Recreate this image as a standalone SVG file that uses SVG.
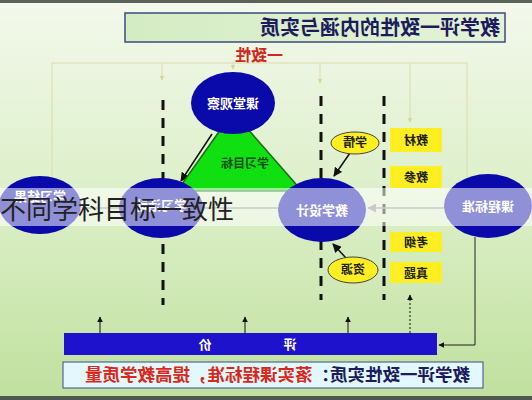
<svg xmlns="http://www.w3.org/2000/svg" width="532" height="400" viewBox="0 0 532 400">
<defs>
<linearGradient id="bg" x1="0" y1="0" x2="0" y2="1">
<stop offset="0" stop-color="#f3f8ec"/>
<stop offset="0.5" stop-color="#dcefc8"/>
<stop offset="1" stop-color="#c0e09e"/>
</linearGradient>
<linearGradient id="tb" x1="0" y1="0" x2="1" y2="0">
<stop offset="0" stop-color="#d4ecc4"/>
<stop offset="1" stop-color="#e4f2d6"/>
</linearGradient>
<marker id="ab" viewBox="0 0 10 10" refX="9" refY="5" markerWidth="6" markerHeight="6" orient="auto">
<path d="M0,0 L10,5 L0,10 z" fill="#111"/>
</marker>
<marker id="ag" viewBox="0 0 10 10" refX="9" refY="5" markerWidth="6" markerHeight="6" orient="auto">
<path d="M0,0 L10,5 L0,10 z" fill="#8a8a8a"/>
</marker>
<marker id="ay" viewBox="0 0 10 10" refX="9" refY="5" markerWidth="5" markerHeight="5" orient="auto">
<path d="M0,0 L10,5 L0,10 z" fill="#d4d890"/>
</marker>
</defs>
<style>
text{font-family:"Noto Sans CJK SC","Noto Sans",sans-serif;font-weight:bold}
.m{text-anchor:middle}
.wt{fill:#ffffff;font-size:13px}
.blue{fill:#0a0aaa}
.yel{fill:#ffee22}
.yt{fill:#222;font-size:12px}
.dash{stroke:#111;stroke-width:3;stroke-dasharray:10 8;fill:none}
.faint{stroke:#dcdca8;stroke-width:1;fill:none}
</style>
<rect x="0" y="0" width="532" height="400" fill="url(#bg)"/>
<rect x="0" y="0" width="532" height="3" fill="#5a625a"/>
<rect x="0" y="396" width="532" height="4" fill="#4e564e"/>

<g id="title">
<rect x="125" y="13" width="380" height="29" fill="url(#tb)" stroke="#3e4a7e" stroke-width="1.5"/>
<text transform="scale(-1,1)" x="-500" y="35" font-size="20" fill="#1c1c5c">教学评一致性的内涵与实质</text>
</g>
<g id="label-consistency">
<text transform="scale(-1,1)" class="m" x="-259" y="61" font-size="16" fill="#d0281a">一致性</text>
</g>

<g id="connectors">
<path class="faint" d="M52,210 V63 H467 V210"/>
<line class="faint" x1="162" y1="63" x2="162" y2="80" marker-end="url(#ay)"/>
<line class="faint" x1="233" y1="63" x2="233" y2="69" marker-end="url(#ay)"/>
<line class="faint" x1="320" y1="63" x2="320" y2="83" marker-end="url(#ay)"/>
<line class="faint" x1="410" y1="63" x2="410" y2="122" marker-end="url(#ay)"/>
<line class="dash" x1="163" y1="100" x2="163" y2="305"/>
<line class="dash" x1="321" y1="96" x2="321" y2="300"/>
<line class="dash" x1="384" y1="96" x2="384" y2="300"/>
<line x1="82" y1="208" x2="120" y2="208" stroke="#8a8a8a" stroke-width="1.5"/>
<line x1="203" y1="208" x2="279" y2="208" stroke="#8a8a8a" stroke-width="1.5"/>
<line x1="444" y1="208" x2="368" y2="208" stroke="#8a8a8a" stroke-width="1.5" marker-end="url(#ag)"/>
<line x1="212" y1="134" x2="181" y2="181" stroke="#111" stroke-width="1.5" marker-end="url(#ab)"/>
<line x1="350" y1="153" x2="334" y2="176" stroke="#111" stroke-width="1.5" marker-end="url(#ab)"/>
<line x1="346" y1="258" x2="333" y2="244" stroke="#111" stroke-width="1.5" marker-end="url(#ab)"/>
<path d="M475,237 V345 H439" stroke="#222" stroke-width="1" fill="none" marker-end="url(#ab)"/>
<line x1="100" y1="333" x2="100" y2="317" stroke="#111" stroke-width="1" marker-end="url(#ab)"/>
<line x1="245" y1="333" x2="245" y2="317" stroke="#111" stroke-width="1" marker-end="url(#ab)"/>
<line x1="348" y1="333" x2="348" y2="317" stroke="#111" stroke-width="1" marker-end="url(#ab)"/>
<line x1="410" y1="333" x2="410" y2="295" stroke="#111" stroke-width="1" stroke-dasharray="2 2" marker-end="url(#ab)"/>
</g>

<g id="goal">
<polygon points="233,112 177,191 302,191" fill="#10e010" stroke="#1a6a1a" stroke-width="1.5"/>
<text transform="scale(-1,1)" class="m" x="-245" y="168" font-size="12" fill="#0e4a12">学习目标</text>
</g>
<g id="observe">
<ellipse class="blue" cx="233" cy="103" rx="42" ry="31"/>
<text transform="scale(-1,1)" class="m wt" x="-233" y="108">课堂观察</text>
</g>
<g id="result">
<ellipse class="blue" cx="40" cy="205" rx="41" ry="29"/>
<text transform="scale(-1,1)" class="m wt" x="-40" y="201">学习结果</text>
</g>
<g id="activity">
<ellipse class="blue" cx="161" cy="208" rx="42" ry="30"/>
<text transform="scale(-1,1)" class="m wt" x="-161" y="210">学习活动</text>
</g>
<g id="design">
<ellipse class="blue" cx="322" cy="210" rx="44" ry="32"/>
<text transform="scale(-1,1)" class="m wt" x="-322" y="215">教学设计</text>
</g>
<g id="standard">
<ellipse class="blue" cx="488" cy="206" rx="44" ry="32"/>
<text transform="scale(-1,1)" class="m wt" x="-488" y="211">课程标准</text>
</g>
<g id="xueqing">
<ellipse cx="355" cy="143" rx="24" ry="11" fill="#ffee22" stroke="#444" stroke-width="1"/>
<text transform="scale(-1,1)" class="m yt" x="-355" y="147">学情</text>
</g>
<g id="ziyuan">
<ellipse cx="353" cy="270" rx="25" ry="13" fill="#ffee22" stroke="#444" stroke-width="1"/>
<text transform="scale(-1,1)" class="m yt" x="-353" y="274">资源</text>
</g>
<g id="jiaocai">
<rect class="yel" x="390" y="128" width="52" height="24"/>
<text transform="scale(-1,1)" class="m yt" x="-416" y="145">教材</text>
</g>
<g id="jiaocan">
<rect class="yel" x="390" y="166" width="52" height="22"/>
<text transform="scale(-1,1)" class="m yt" x="-416" y="182">教参</text>
</g>
<g id="kaogang">
<rect class="yel" x="390" y="232" width="52" height="20"/>
<text transform="scale(-1,1)" class="m yt" x="-416" y="247">考纲</text>
</g>
<g id="zhenti">
<rect class="yel" x="390" y="262" width="52" height="21"/>
<text transform="scale(-1,1)" class="m yt" x="-416" y="278">真题</text>
</g>
<g id="evaluation">
<rect x="64" y="333" width="373" height="22" fill="#1e12cc"/>
<text transform="scale(-1,1)" class="m" x="-290" y="349" font-size="13" fill="#fff" font-weight="normal">评</text>
<text transform="scale(-1,1)" class="m" x="-205" y="349" font-size="13" fill="#fff" font-weight="normal">价</text>
</g>
<g id="essence">
<rect x="63" y="362" width="420" height="26" fill="#e2f8fc" stroke="#3a4a86" stroke-width="1"/>
<text transform="scale(-1,1)" x="-470" y="381" font-size="17.5"><tspan fill="#1c1c5c">教学评一致性实质：</tspan><tspan fill="#d8281c">落实课程标准，提高教学质量</tspan></text>
</g>

<g id="overlay">
<rect x="0" y="188" width="532" height="38" fill="#ffffff" fill-opacity="0.55"/>
<text x="0" y="219" font-size="26" fill="#222" style="font-weight:normal">不同学科目标一致性</text>
</g>
</svg>
